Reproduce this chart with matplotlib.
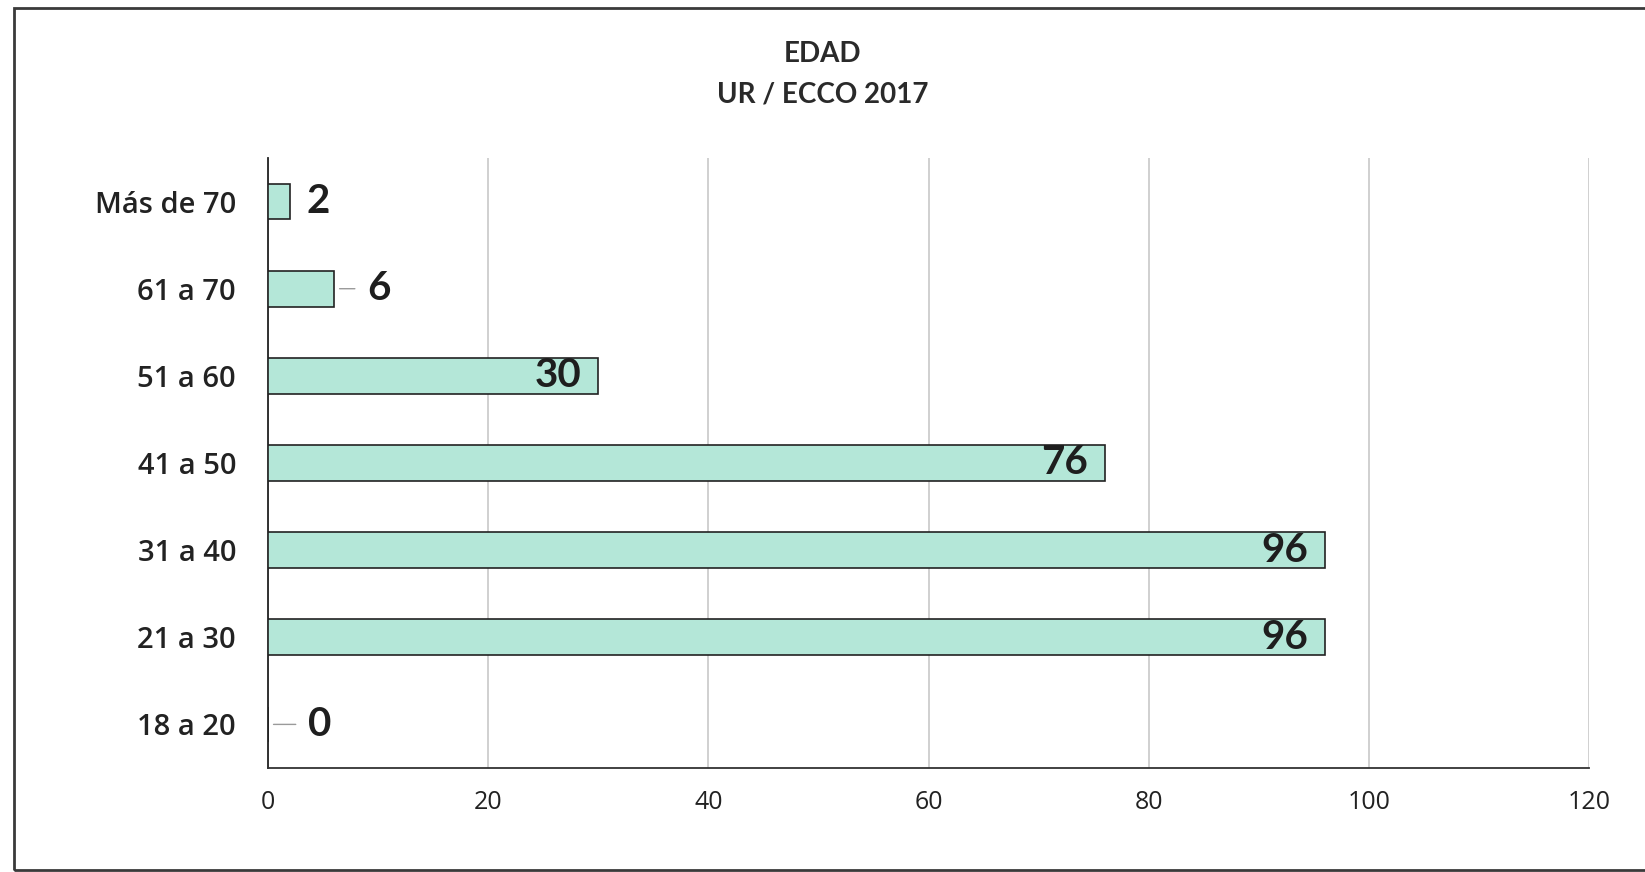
import matplotlib
matplotlib.use("Agg")
import matplotlib.pyplot as plt
from matplotlib.patches import Rectangle

# datos del gráfico
categorias = ["18 a 20", "21 a 30", "31 a 40", "41 a 50", "51 a 60", "61 a 70", "Más de 70"]
valores = [0, 96, 96, 76, 30, 6, 2]
ticks_x = [0, 20, 40, 60, 80, 100, 120]
titulo = "EDAD\nUR / ECCO 2017"

# etiquetas fuera de la barra: desplazamiento en puntos y si llevan línea guía
fuera = {0: (29, True), 5: (24, True), 6: (12, False)}

plt.rcParams['font.family'] = ['Lato', 'DejaVu Sans']

fig = plt.figure(figsize=(16.45, 8.72), dpi=100)
ax = fig.add_axes([0.1629, 0.1193, 0.8032, 0.6995])

y = list(range(len(categorias)))
ax.barh(y, valores, height=0.41, color="#b4e7d8", edgecolor="#222222", linewidth=1.2, zorder=3)

for i, v in enumerate(valores):
    if i in fuera:
        dx, guia = fuera[i]
        ax.annotate(str(v), xy=(v, i), xytext=(dx, 0), textcoords="offset points",
                    ha="left", va="center", fontsize=29, fontweight="bold", color="#1e1e1e", zorder=4)
        if guia:
            # línea guía entre la barra y la etiqueta
            ax.annotate("", xy=(v, i), xytext=(dx, 0), textcoords="offset points",
                        arrowprops=dict(arrowstyle="-", color="#9a9a9a", lw=1,
                                        shrinkA=9, shrinkB=4))
    else:
        ax.annotate(str(v), xy=(v, i), xytext=(-12, 0), textcoords="offset points",
                    ha="right", va="center", fontsize=29, fontweight="bold", color="#1e1e1e", zorder=4)

ax.set_xlim(0, 120)
ax.set_ylim(-0.5, len(categorias) - 0.5)
ax.set_xticks(ticks_x)
ax.set_xticklabels([str(t) for t in ticks_x], fontsize=18, color="#222222",
                   family=['Open Sans', 'DejaVu Sans'])
ax.set_yticks(y)
ax.set_yticklabels(categorias, fontsize=21, fontweight="semibold", color="#222222",
                   family=['Open Sans', 'DejaVu Sans'])
ax.tick_params(axis="x", length=0, pad=16)
ax.tick_params(axis="y", length=0, pad=23)

ax.grid(axis="x", color="#c8c8c8", linewidth=1.2, zorder=0)
for s in ["top", "right"]:
    ax.spines[s].set_visible(False)
ax.spines["left"].set_color("#222222")
ax.spines["left"].set_linewidth(1.3)
ax.spines["bottom"].set_color("#333333")
ax.spines["bottom"].set_linewidth(1.3)

fig.text(0.5003, 0.915, titulo, ha="center", va="center", fontsize=20, fontweight="bold",
         color="#2a2a2a", linespacing=1.7)

# marco exterior
fig.patches.append(Rectangle((14 / 1645, 2 / 872), 1.05, 862 / 872, transform=fig.transFigure,
                             fill=False, edgecolor="#3a3a3a", linewidth=2))

fig.savefig("out.png", dpi=100)
